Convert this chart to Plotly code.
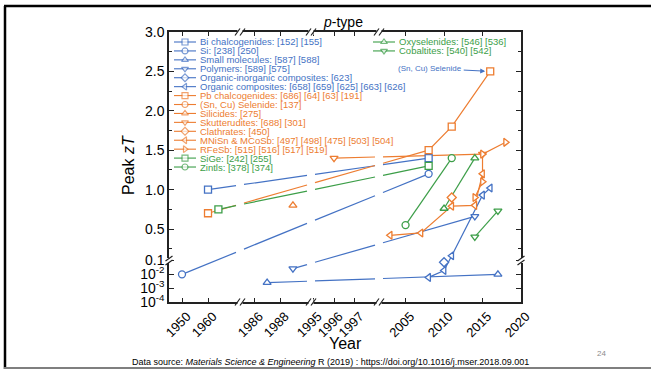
import math
import plotly.graph_objects as go

W, H = 651, 369

# ---------------- data ----------------
bi_year = [1960, 2008];                    bi_zt = [1.00, 1.40]
si_year = [1950, 2008];                    si_zt = [0.01, 1.20]
smallmol_year = [1987, 2017];              smallmol_zt = [0.0025, 0.010]
polymer_year = [1989, 2014];               polymer_zt = [0.026, 0.66]
orginorg_year = [2010];                    orginorg_zt = [0.075]
orgcomp_year = [2008, 2010, 2011, 2015, 2016]
orgcomp_zt = [0.006, 0.019, 0.16, 0.93, 1.02]
pb_year = [1960, 2008, 2011, 2016];        pb_zt = [0.70, 1.50, 1.80, 2.50]
sncu_year = [];                            sncu_zt = []
silicide_year = [1989];                    silicide_zt = [0.80]
skutt_year = [1996, 2015];                 skutt_zt = [1.40, 1.45]
clath_year = [2011];                       clath_zt = [0.90]
mnisn_year = [2003, 2007, 2011, 2014, 2015]
mnisn_zt = [0.42, 0.45, 0.79, 0.80, 1.20]
rfesb_year = [2014, 2015, 2015, 2018];     rfesb_zt = [0.90, 1.10, 1.45, 1.60]
sige_year = [1964, 2008];                  sige_zt = [0.75, 1.30]
zintl_year = [2005, 2011];                 zintl_zt = [0.55, 1.40]
oxysel_year = [2010, 2014];                oxysel_zt = [0.76, 1.40]
cobalt_year = [2014, 2017];                cobalt_zt = [0.40, 0.73]

x_tick_years = [1950, 1960, 1986, 1988, 1995, 1996, 1997, 2005, 2010, 2015, 2020]
y_tick_values = [3.0, 2.5, 2.0, 1.5, 1.0, 0.5, 0.1, 1e-2, 1e-3, 1e-4]
y_tick_labels = ["3.0", "2.5", "2.0", "1.5", "1.0", "0.5", "0.1",
                 "10<sup>-2</sup>", "10<sup>-3</sup>", "10<sup>-4</sup>"]
y_minor_values = [2.75, 2.25, 1.75, 1.25, 0.75, 0.25]

BLUE, ORANGE, GREEN = "#4472C4", "#ED7D31", "#3C9E48"

SERIES = [
    ("Bi chalcogenides: [152] [155]", bi_year, bi_zt, BLUE, "square"),
    ("Si: [238] [250]", si_year, si_zt, BLUE, "circle"),
    ("Small molecules: [587] [588]", smallmol_year, smallmol_zt, BLUE, "triangle-up"),
    ("Polymers: [589] [575]", polymer_year, polymer_zt, BLUE, "triangle-down"),
    ("Organic-inorganic composites: [623]", orginorg_year, orginorg_zt, BLUE, "diamond"),
    ("Organic composites: [658] [659] [625] [663] [626]", orgcomp_year, orgcomp_zt, BLUE, "triangle-left"),
    ("Pb chalcogenides: [686] [64] [63] [191]", pb_year, pb_zt, ORANGE, "square"),
    ("(Sn, Cu) Selenide: [137]", sncu_year, sncu_zt, ORANGE, "circle"),
    ("Silicides: [275]", silicide_year, silicide_zt, ORANGE, "triangle-up"),
    ("Skutterudites: [688] [301]", skutt_year, skutt_zt, ORANGE, "triangle-down"),
    ("Clathrates: [450]", clath_year, clath_zt, ORANGE, "diamond"),
    ("MNiSn &amp; MCoSb: [497] [498] [475] [503] [504]", mnisn_year, mnisn_zt, ORANGE, "triangle-left"),
    ("RFeSb: [515] [516] [517] [519]", rfesb_year, rfesb_zt, ORANGE, "triangle-right"),
    ("SiGe: [242] [255]", sige_year, sige_zt, GREEN, "square"),
    ("Zintls: [378] [374]", zintl_year, zintl_zt, GREEN, "circle"),
    ("Oxyselenides: [546] [536]", oxysel_year, oxysel_zt, GREEN, "triangle-up"),
    ("Cobaltites: [540] [542]", cobalt_year, cobalt_zt, GREEN, "triangle-down"),
]

# ---------------- broken scales ----------------
# x: panels (first year, last year, start px, end px)
X_PANELS = [(1945.0, 1972.3, 169, 240),
            (1984.9, 1990.4, 240, 311),
            (1994.9, 1998.15, 311, 379),
            (2001.55, 2020.0, 379, 521)]
X_BREAKS = [240, 311, 379]
Y_TOP, Y_BOT = 32, 302
Y_LIN_PX = 78.8      # px per unit of zT above 0.1
Y_LOG_PX = 13.83     # px per decade below 0.1
Y_BREAK = Y_TOP + (3.0 - 0.1) * Y_LIN_PX


def xpx(year):
    for y0, y1, p0, p1 in X_PANELS:
        if y0 - 1e-9 <= year <= y1 + 1e-9:
            return p0 + (year - y0) * (p1 - p0) / (y1 - y0)
    raise ValueError(year)


def ypx(v):
    if v >= 0.1:
        return Y_TOP + (3.0 - v) * Y_LIN_PX
    return Y_BREAK + (-1 - math.log10(v)) * Y_LOG_PX


GAP = 4


def path(years, zts):
    px = [xpx(v) for v in years]
    py = [ypx(v) for v in zts]
    ox, oy = [px[0]], [py[0]]
    for i in range(1, len(px)):
        x0, y0, x1, y1 = px[i - 1], py[i - 1], px[i], py[i]
        for b in X_BREAKS:
            if x0 < b - GAP and x1 > b + GAP:
                t0 = (b - GAP - x0) / (x1 - x0)
                t1 = (b + GAP - x0) / (x1 - x0)
                ox += [b - GAP, None, b + GAP]
                oy += [y0 + t0 * (y1 - y0), None, y0 + t1 * (y1 - y0)]
        ox.append(x1)
        oy.append(y1)
    return ox, oy


def P(px, py):
    return px / W, 1 - py / H


FONT = "Arial, Liberation Sans, sans-serif"
fig = go.Figure()

# data lines
for label, yrs, zts, col, sym in SERIES:
    if len(yrs) >= 2:
        lx, ly = path(yrs, zts)
        fig.add_trace(go.Scatter(x=lx, y=ly, mode="lines",
                                 line=dict(color=col, width=1.2),
                                 hoverinfo="skip", showlegend=False))
# data markers
for label, yrs, zts, col, sym in SERIES:
    if yrs:
        fig.add_trace(go.Scatter(x=[xpx(v) for v in yrs], y=[ypx(v) for v in zts],
                                 mode="markers", showlegend=False,
                                 marker=dict(symbol=sym, size=7, color="white",
                                             line=dict(color=col, width=1.3))))

# manual legend (two blocks)
annotations = []
ROW0, ROWSTEP = 42, 8.93
for i, (label, yrs, zts, col, sym) in enumerate(SERIES):
    if i < 15:
        x0, row = 174, ROW0 + i * ROWSTEP
    else:
        x0, row = 373, ROW0 + (i - 15) * ROWSTEP
    fig.add_trace(go.Scatter(x=[x0, x0 + 11, x0 + 22], y=[row] * 3, mode="lines+markers",
                             showlegend=False, hoverinfo="skip", cliponaxis=False,
                             line=dict(color=col, width=1.1),
                             marker=dict(symbol=sym, size=[0, 6, 0], color="white",
                                         line=dict(color=col, width=[0, 1.2, 0]))))
    ax_, ay_ = P(x0 + 24, row)
    annotations.append(dict(x=ax_, y=ay_, xref="paper", yref="paper", text=label,
                            showarrow=False, xanchor="left", yanchor="middle",
                            font=dict(family=FONT, size=9.5, color=col)))

# (Sn, Cu) Selenide call-out
annotations.append(dict(x=xpx(2016), y=ypx(2.5), xref="x", yref="y",
                        text="(Sn, Cu) Selenide", showarrow=True, ax=-60, ay=-3,
                        arrowhead=2, arrowsize=1, arrowwidth=1, arrowcolor=BLUE,
                        standoff=5, font=dict(family=FONT, size=8, color=BLUE)))


def txt(px, py, text, size, color="black", angle=0, **kw):
    x, y = P(px, py)
    d = dict(x=x, y=y, xref="paper", yref="paper", text=text, showarrow=False,
             xanchor="center", yanchor="middle", textangle=angle,
             font=dict(family=FONT, size=size, color=color))
    d.update(kw)
    annotations.append(d)


txt(343, 22, "<i>p</i>-type", 14)
txt(128, 165, "Peak <i>zT</i>", 16, angle=-90)
txt(345, 343, "Year", 16)
txt(331, 362, "Data source: <i>Materials Science &amp; Engineering</i> R (2019) : "
    "https://doi.org/10.1016/j.mser.2018.09.001", 9)
txt(601, 353, "24", 8, color="#8c8c8c")

# shapes: slide border and axis break marks
shapes = []


def seg(x0, y0, x1, y1, color="#222", width=1.2):
    a, b = P(x0, y0)
    c, d = P(x1, y1)
    shapes.append(dict(type="line", xref="paper", yref="paper", x0=a, y0=b, x1=c, y1=d,
                       line=dict(color=color, width=width)))


def white(x0, y0, x1, y1):
    a, b = P(x0, y0)
    c, d = P(x1, y1)
    shapes.append(dict(type="rect", xref="paper", yref="paper", x0=a, y0=b, x1=c, y1=d,
                       line=dict(width=0), fillcolor="white", layer="above"))


for b in X_BREAKS:
    for yy in (Y_TOP, Y_BOT):
        white(b - 2.5, yy - 3, b + 2.5, yy + 3)
        seg(b - 5, yy + 3.5, b, yy - 3.5)
        seg(b, yy + 3.5, b + 5, yy - 3.5)
for xx in (169, 521):
    white(xx - 3, Y_BREAK - 2.5, xx + 3, Y_BREAK + 2.5)
    seg(xx - 3.5, Y_BREAK + 0.5, xx + 3.5, Y_BREAK - 4.5)
    seg(xx - 3.5, Y_BREAK + 4.5, xx + 3.5, Y_BREAK - 0.5)

seg(5, 6, 5, 369, color="black", width=2.5)
seg(4, 6, 651, 6, color="black", width=2.5)
seg(4, 368, 651, 368, color="#7f7f7f", width=2)

fig.update_layout(
    width=W, height=H, autosize=False,
    margin=dict(l=0, r=0, t=0, b=0),
    paper_bgcolor="white", plot_bgcolor="rgba(0,0,0,0)",
    font=dict(family=FONT, color="black"),
    showlegend=False,
    annotations=annotations, shapes=shapes,
    xaxis=dict(range=[169, 521], domain=[169 / W, 521 / W], tickmode="array",
               tickvals=[xpx(v) for v in x_tick_years],
               ticktext=[str(v) for v in x_tick_years], tickangle=-45,
               ticklabelshift=5,
               ticks="inside", ticklen=4, tickwidth=1, tickcolor="#222",
               showline=True, linecolor="#222", linewidth=1.5, mirror="ticks",
               showgrid=False, zeroline=False, automargin=False,
               tickfont=dict(family=FONT, size=13, color="black")),
    yaxis=dict(range=[Y_BOT, Y_TOP], domain=[1 - Y_BOT / H, 1 - Y_TOP / H],
               tickmode="array", tickvals=[ypx(v) for v in y_tick_values],
               ticktext=y_tick_labels, ticks="inside", ticklen=5, tickwidth=1,
               tickcolor="#222", showline=True, linecolor="#222", linewidth=1.5,
               mirror="ticks", showgrid=False, zeroline=False, automargin=False,
               minor=dict(tickmode="array", tickvals=[ypx(v) for v in y_minor_values],
                          ticks="inside", ticklen=3, tickcolor="#222"),
               tickfont=dict(family=FONT, size=14, color="black")),
)

fig.write_html("out.html")
